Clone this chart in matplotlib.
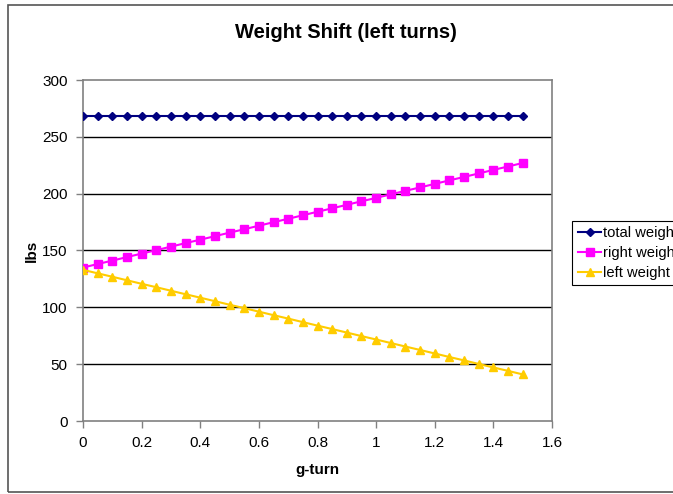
import matplotlib
matplotlib.use("Agg")
import matplotlib.pyplot as plt
from matplotlib.patches import Rectangle

g_turn = [0.0, 0.05, 0.1, 0.15, 0.2, 0.25, 0.3, 0.35, 0.4, 0.45, 0.5, 0.55, 0.6, 0.65, 0.7, 0.75,
          0.8, 0.85, 0.9, 0.95, 1.0, 1.05, 1.1, 1.15, 1.2, 1.25, 1.3, 1.35, 1.4, 1.45, 1.5]
total_weight = [268] * 31
right_weight = [135.0, 138.1, 141.1, 144.2, 147.3, 150.3, 153.4, 156.5, 159.5, 162.6, 165.7,
                168.7, 171.8, 174.9, 177.9, 181.0, 184.1, 187.1, 190.2, 193.3, 196.3, 199.4,
                202.5, 205.5, 208.6, 211.7, 214.7, 217.8, 220.9, 223.9, 227.0]
left_weight = [133.0, 129.9, 126.9, 123.8, 120.7, 117.7, 114.6, 111.5, 108.5, 105.4, 102.3,
               99.3, 96.2, 93.1, 90.1, 87.0, 83.9, 80.9, 77.8, 74.7, 71.7, 68.6, 65.5, 62.5,
               59.4, 56.3, 53.3, 50.2, 47.1, 44.1, 41.0]
x_ticks = [0, 0.2, 0.4, 0.6, 0.8, 1, 1.2, 1.4, 1.6]
x_tick_labels = ["0", "0.2", "0.4", "0.6", "0.8", "1", "1.2", "1.4", "1.6"]
y_ticks = [0, 50, 100, 150, 200, 250, 300]

plt.rcParams['font.family'] = ['Liberation Sans', 'DejaVu Sans']

W, H = 673, 494
fig = plt.figure(figsize=(W / 100, H / 100), dpi=100)
fig.patch.set_facecolor('white')

# outer chart border
fig.patches.append(Rectangle((8 / W, 1 - 492 / H), 1.0, (492 - 5) / H,
                             transform=fig.transFigure, fill=False,
                             edgecolor='#555555', linewidth=1.2))

ax = fig.add_axes([83 / W, 1 - 421 / H, (552 - 83) / W, (421 - 80) / H])
ax.set_xlim(0, 1.6)
ax.set_ylim(0, 300)

for yv in y_ticks[1:-1]:
    ax.axhline(yv, color='black', linewidth=1.0, zorder=1)

ax.plot(g_turn, total_weight, color='#000080', marker='D', markersize=4.5,
        linewidth=1.5, label='total weight', zorder=3)
ax.plot(g_turn, right_weight, color='#FF00FF', marker='s', markersize=5.5,
        linewidth=1.5, label='right weight', zorder=3)
ax.plot(g_turn, left_weight, color='#FFCC00', marker='^', markersize=6,
        linewidth=1.5, label='left weight', zorder=3)

for s in ax.spines.values():
    s.set_color('#808080')
    s.set_linewidth(1.2)

ax.set_xticks(x_ticks)
ax.set_xticklabels(x_tick_labels)
ax.set_yticks(y_ticks)
ax.tick_params(axis='both', direction='out', length=5, color='#808080',
               labelsize=11, width=1.0)
ax.tick_params(axis='x', pad=6)
ax.tick_params(axis='y', pad=6)

ax.set_xlabel('g-turn', fontsize=11, fontweight='bold', labelpad=9)
ax.set_ylabel('lbs', fontsize=11, fontweight='bold', labelpad=2.5)
fig.text(346 / W, 1 - 33 / H, 'Weight Shift (left turns)', fontsize=14.5,
         fontweight='bold', ha='center', va='center')

# legend frame running past the right edge, as in the reference
fig.patches.append(Rectangle((572 / W, 1 - 285 / H), 120 / W, (285 - 221) / H,
                             transform=fig.transFigure, fill=True, facecolor='white',
                             edgecolor='black', linewidth=0.8, zorder=4))
leg = fig.legend(loc='upper left', bbox_to_anchor=(574 / W, 1 - 222 / H),
                 bbox_transform=fig.transFigure, fontsize=10.6, frameon=False,
                 borderpad=0.3, labelspacing=0.4,
                 handlelength=1.55, handletextpad=0.15, borderaxespad=0)
leg.set_zorder(5)

fig.savefig('out.png', dpi=100)
